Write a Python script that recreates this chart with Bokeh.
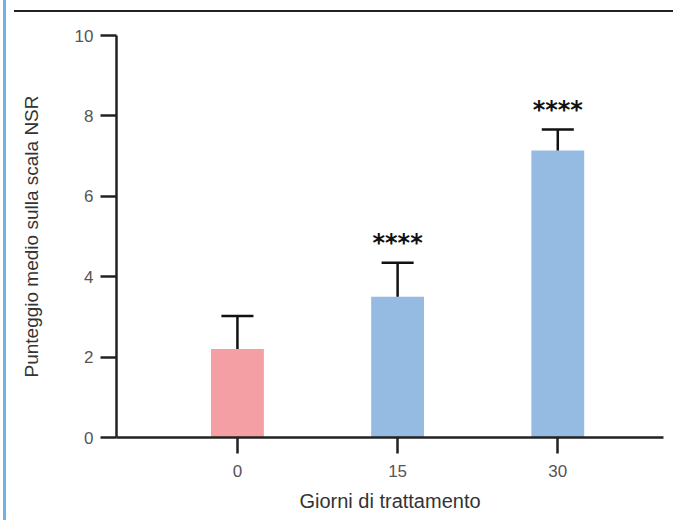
from bokeh.plotting import figure
from bokeh.models import ColumnDataSource, Range1d, FixedTicker
from bokeh.core.properties import value
from bokeh.embed import file_html
from bokeh.resources import INLINE

# ---- data ----
days = ["0", "15", "30"]
means = [2.2, 3.5, 7.14]
sem = [0.82, 0.85, 0.52]
sig = ["", "****", "****"]
colors = ["#F49FA3", "#96BBE3"]
y_ticks = [0, 2, 4, 6, 8, 10]

xpos = list(range(len(days)))
bar_colors = [colors[0]] + [colors[1]] * (len(days) - 1)
tops = [m + s for m, s in zip(means, sem)]
cap = 0.1

src = ColumnDataSource(dict(
    x=xpos, top=means, err_top=tops, color=bar_colors,
    cap_l=[x - cap for x in xpos], cap_r=[x + cap for x in xpos],
    sig=sig, sig_y=[t + 0.48 for t in tops],
))

p = figure(width=670, height=520, output_backend="svg", toolbar_location=None,
           x_range=Range1d(-0.755, 2.66), y_range=Range1d(0, 10),
           min_border_left=110, min_border_right=13, min_border_top=23,
           min_border_bottom=95)
p.styles = {
    "margin-left": "3px",
    "border-left": "3px solid #6FB3E8",
    "padding-top": "12px",
    "background": "linear-gradient(#222222, #222222) no-repeat 8px 10px / 662px 2px",
}

p.vbar(x="x", top="top", bottom=0, width=0.33, color="color", line_color=None, source=src)
p.segment(x0="x", y0="top", x1="x", y1="err_top", line_color="#111111", line_width=2.5, source=src)
p.segment(x0="cap_l", y0="err_top", x1="cap_r", y1="err_top", line_color="#111111",
          line_width=2.5, source=src)
p.text(x="x", y="sig_y", text="sig", source=src, text_align="center", text_baseline="middle",
       text_font=value("DejaVu Sans"), text_font_style="bold", text_font_size="24px",
       text_color="#111111")

p.grid.visible = False
p.outline_line_color = None

p.xaxis.ticker = FixedTicker(ticks=xpos)
p.xaxis.major_label_overrides = {i: d for i, d in enumerate(days)}
p.yaxis.ticker = FixedTicker(ticks=y_ticks)
p.yaxis.bounds = (0, 10)

for ax in (p.xaxis, p.yaxis):
    ax.axis_line_color = "#222222"
    ax.axis_line_width = 2.5
    ax.major_tick_line_color = "#222222"
    ax.major_tick_line_width = 2.5
    ax.major_tick_in = 0
    ax.major_tick_out = 16
    ax.minor_tick_line_color = None
    ax.major_label_text_font = "Liberation Sans"
    ax.major_label_text_font_size = "17px"
    ax.major_label_text_color = "#555555"
    ax.axis_label_text_font = "Liberation Sans"
    ax.axis_label_text_font_style = "normal"
    ax.axis_label_text_color = "#333333"

p.xaxis.axis_label = "Giorni di trattamento"
p.xaxis.axis_label_text_font_size = "20px"
p.xaxis.major_label_standoff = 11
p.xaxis.axis_label_standoff = 10
p.yaxis.axis_label = "Punteggio medio sulla scala NSR"
p.yaxis.axis_label_text_font_size = "19px"
p.yaxis.major_label_standoff = 7
p.yaxis.axis_label_standoff = 30

open("out.html", "w").write(file_html(p, INLINE))
